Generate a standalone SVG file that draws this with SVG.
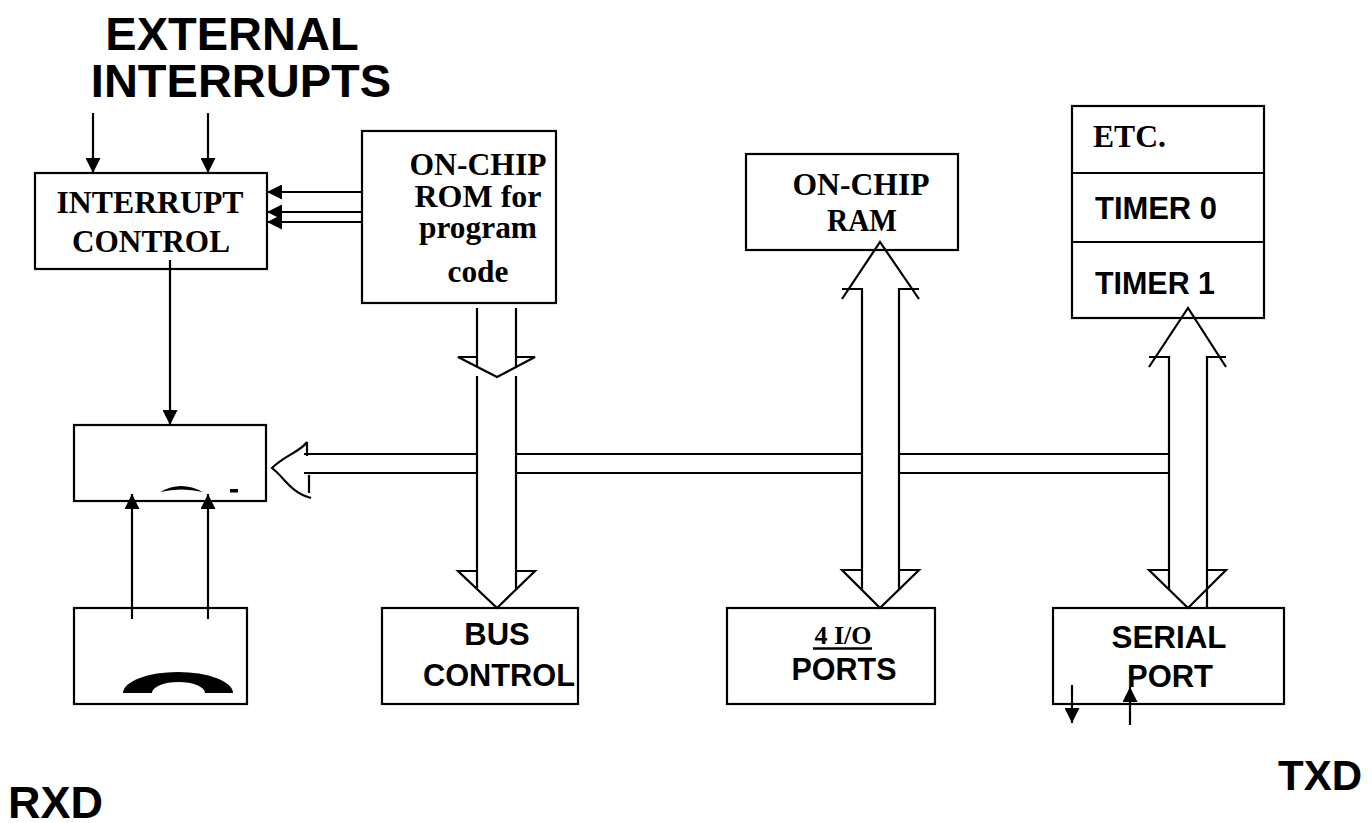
<svg xmlns="http://www.w3.org/2000/svg" width="1372" height="823" viewBox="0 0 1372 823">
<style>
.box{fill:#fff;stroke:#000;stroke-width:2.2}
.ln{fill:none;stroke:#000;stroke-width:2.2}
.tr{font-family:"Liberation Serif","Times New Roman",serif;font-weight:bold;font-size:31px;fill:#000}
.ar{font-family:"Liberation Sans",Arial,sans-serif;font-weight:bold;font-size:31px;fill:#000}
.big{font-family:"Liberation Sans",Arial,sans-serif;font-weight:bold;font-size:47px;fill:#000}
</style>
<defs>
<marker id="ah" viewBox="0 0 10 10" refX="10" refY="5" markerWidth="15" markerHeight="15" markerUnits="userSpaceOnUse" orient="auto">
<path d="M0,0 L10,5 L0,10 Z" fill="#000"/>
</marker>
</defs>
<rect width="1372" height="823" fill="#fff"/>

<g id="title">
<text class="big" x="232" y="50" text-anchor="middle">EXTERNAL</text>
<text class="big" x="241" y="97" text-anchor="middle">INTERRUPTS</text>
</g>

<g id="interrupt-control">
<rect class="box" x="35" y="173" width="232" height="96"/>
<text class="tr" x="150" y="213" text-anchor="middle" textLength="187" lengthAdjust="spacingAndGlyphs">INTERRUPT</text>
<text class="tr" x="151" y="252" text-anchor="middle" textLength="158" lengthAdjust="spacingAndGlyphs">CONTROL</text>
</g>

<g id="rom">
<rect class="box" x="362" y="131" width="194" height="172"/>
<text class="tr" x="478" y="175" text-anchor="middle" textLength="137" lengthAdjust="spacingAndGlyphs">ON-CHIP</text>
<text class="tr" x="478" y="207" text-anchor="middle" textLength="127" lengthAdjust="spacingAndGlyphs">ROM for</text>
<text class="tr" x="478" y="238" text-anchor="middle" textLength="118" lengthAdjust="spacingAndGlyphs">program</text>
<text class="tr" x="478" y="282" text-anchor="middle" textLength="61" lengthAdjust="spacingAndGlyphs">code</text>
</g>

<g id="ram">
<rect class="box" x="746" y="154" width="212" height="96"/>
<text class="tr" x="861" y="195" text-anchor="middle" textLength="137" lengthAdjust="spacingAndGlyphs">ON-CHIP</text>
<text class="tr" x="862" y="231" text-anchor="middle" textLength="70" lengthAdjust="spacingAndGlyphs">RAM</text>
</g>

<g id="timers">
<rect class="box" x="1072" y="106" width="192" height="212"/>
<line class="ln" x1="1072" y1="173" x2="1264" y2="173"/>
<line class="ln" x1="1072" y1="242" x2="1264" y2="242"/>
<text class="tr" x="1093" y="147" textLength="73" lengthAdjust="spacingAndGlyphs">ETC.</text>
<text class="ar" x="1095" y="219" textLength="122" lengthAdjust="spacingAndGlyphs">TIMER 0</text>
<text class="ar" x="1095" y="294" textLength="120" lengthAdjust="spacingAndGlyphs">TIMER 1</text>
</g>

<g id="cpu">
<rect class="box" x="74" y="425" width="192" height="76"/>
<path d="M160,492 Q181,480 203,492 Q181,487 160,492 Z" fill="#000"/>
<rect x="230" y="489" width="8" height="3.5" fill="#000"/>
</g>

<g id="osc">
<rect class="box" x="74" y="608" width="173" height="96"/>
<path d="M123,693 A55,21 0 0 1 233,693 L205,693 A26.5,11 0 0 0 152,693 Z" fill="#000"/>
</g>

<g id="bus-control">
<rect class="box" x="382" y="608" width="196" height="96"/>
<text class="ar" x="497" y="645" text-anchor="middle">BUS</text>
<text class="ar" x="499" y="686" text-anchor="middle" textLength="152" lengthAdjust="spacingAndGlyphs">CONTROL</text>
</g>

<g id="io-ports">
<rect class="box" x="727" y="608" width="208" height="96"/>
<text class="tr" x="843" y="644" text-anchor="middle" style="font-size:26px">4 I/O</text>
<line x1="813" y1="648.5" x2="872" y2="648.5" stroke="#000" stroke-width="2.5"/>
<text class="ar" x="844" y="680" text-anchor="middle" textLength="105" lengthAdjust="spacingAndGlyphs">PORTS</text>
</g>

<g id="serial-port">
<rect class="box" x="1053" y="608" width="231" height="96"/>
<text class="ar" x="1169" y="648" text-anchor="middle" textLength="115" lengthAdjust="spacingAndGlyphs">SERIAL</text>
<text class="ar" x="1170" y="687" text-anchor="middle" textLength="86" lengthAdjust="spacingAndGlyphs">PORT</text>
</g>

<g id="txd">
<text class="big" x="1362" y="790" text-anchor="end" style="font-size:42px">TXD</text>
</g>
<g id="rxd">
<text class="big" x="8" y="818" style="font-size:45px">RXD</text>
</g>

<g id="connectors">
<line class="ln" x1="93" y1="113" x2="93" y2="173" marker-end="url(#ah)"/>
<line class="ln" x1="208" y1="113" x2="208" y2="173" marker-end="url(#ah)"/>
<line class="ln" x1="362" y1="192" x2="267" y2="192" marker-end="url(#ah)"/>
<line class="ln" x1="362" y1="212" x2="267" y2="212" marker-end="url(#ah)"/>
<line class="ln" x1="362" y1="222" x2="267" y2="222" marker-end="url(#ah)"/>
<line class="ln" x1="170" y1="260" x2="170" y2="425" marker-end="url(#ah)"/>
<line class="ln" x1="132" y1="619" x2="132" y2="494" marker-end="url(#ah)"/>
<line class="ln" x1="208" y1="619" x2="208" y2="494" marker-end="url(#ah)"/>

<line class="ln" x1="477" y1="308" x2="477" y2="367"/>
<line class="ln" x1="516" y1="308" x2="516" y2="367"/>
<path class="ln" d="M477,357 H458 L497,377 L535,357 H516"/>
<line class="ln" x1="477" y1="376" x2="477" y2="589"/>
<line class="ln" x1="516" y1="376" x2="516" y2="589"/>
<path class="ln" d="M477,571 H458 L497,608 L535,571 H516"/>

<line class="ln" x1="304" y1="454" x2="477" y2="454"/>
<line class="ln" x1="304" y1="473" x2="477" y2="473"/>
<line class="ln" x1="516" y1="454" x2="862" y2="454"/>
<line class="ln" x1="516" y1="473" x2="862" y2="473"/>
<line class="ln" x1="899" y1="454" x2="1168" y2="454"/>
<line class="ln" x1="899" y1="473" x2="1168" y2="473"/>
<path class="ln" d="M307,442 V456"/>
<path class="ln" d="M307,442 C300,452 285,455 272,468 C285,478 290,492 311,498"/>
<path class="ln" d="M309,475 V493"/>

<path class="ln" d="M842,299 L880,242 L919,299"/>
<path class="ln" d="M842,289 H862 V590"/>
<path class="ln" d="M919,289 H899 V590"/>
<path class="ln" d="M862,570 H842 L880,608 L919,570 H899"/>

<path class="ln" d="M1149,367 L1188,308 L1226,367"/>
<path class="ln" d="M1149,357 H1169 V589"/>
<path class="ln" d="M1226,357 H1207 V608"/>
<path class="ln" d="M1169,570 H1149 L1188,608 L1226,570 H1207"/>

<line class="ln" x1="1072" y1="685" x2="1072" y2="723" marker-end="url(#ah)"/>
<line class="ln" x1="1130" y1="725" x2="1130" y2="687" marker-end="url(#ah)"/>
</g>
</svg>
